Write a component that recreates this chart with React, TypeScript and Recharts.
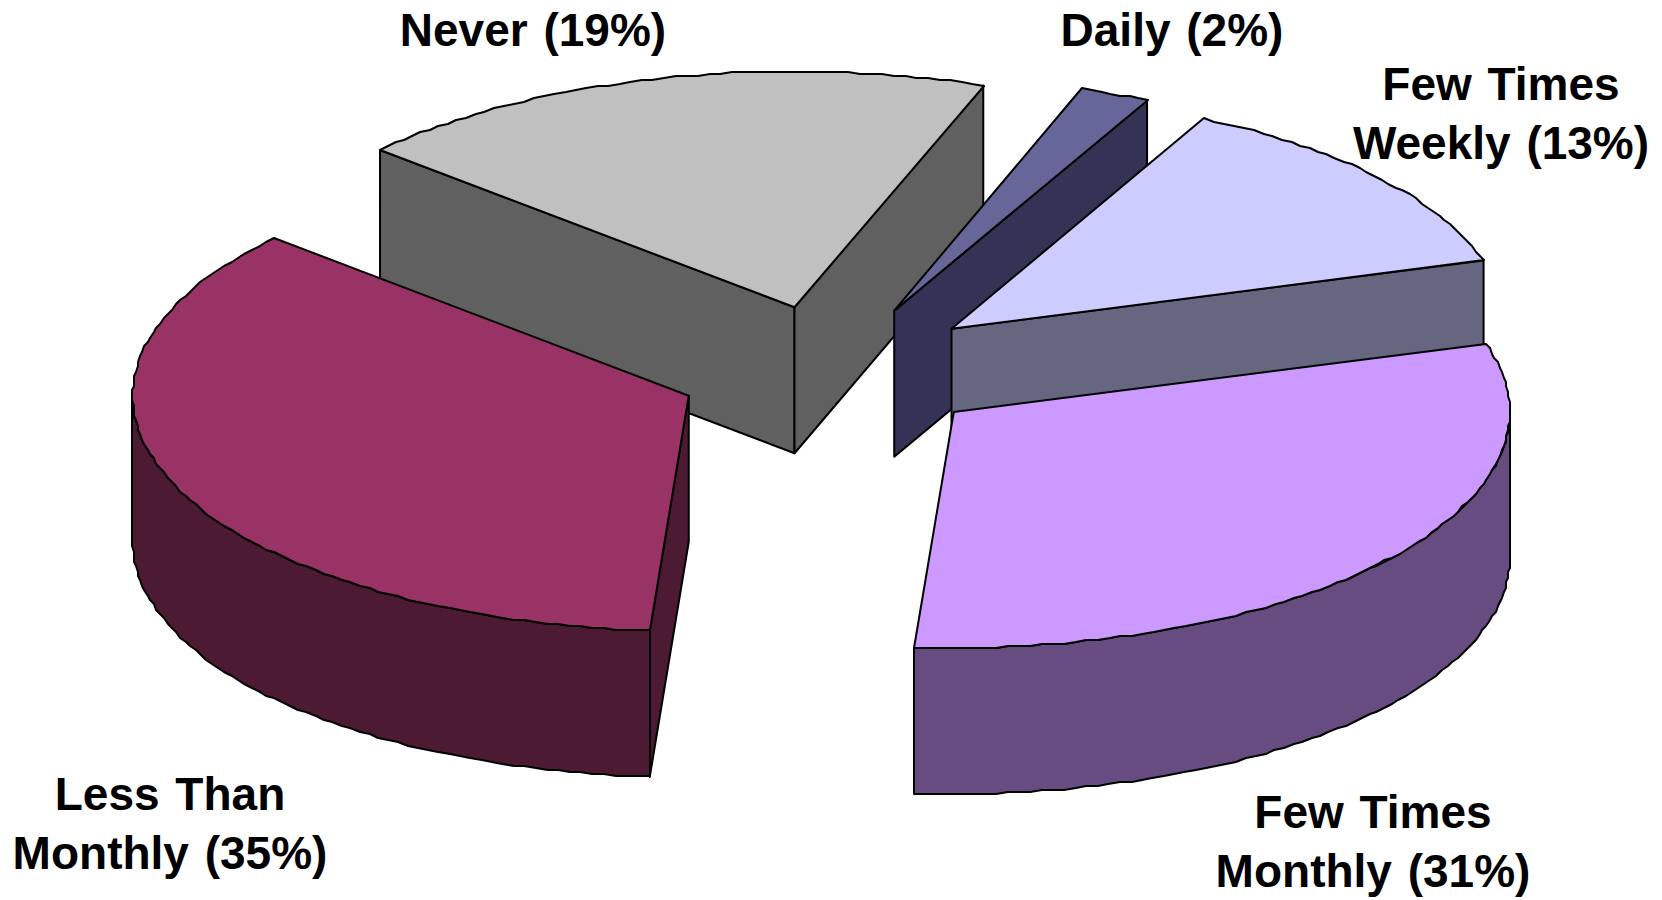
import { PieChart, Pie } from "recharts";

const categories = [
  "Never",
  "Daily",
  "Few Times Weekly",
  "Few Times Monthly",
  "Less Than Monthly",
];
// they round to the printed labels
const shares = [18.9, 2, 12.8, 30.8, 35.49];
const topColors = ["#C0C0C0", "#666699", "#CCCCFF", "#CC99FF", "#993366"];
const sideColors = ["#606060", "#333355", "#666680", "#664C80", "#4D1A33"];

const labelLines = [
  ["Never (19%)"],
  ["Daily (2%)"],
  ["Few Times", "Weekly (13%)"],
  ["Few Times", "Monthly (31%)"],
  ["Less Than", "Monthly (35%)"],
];
const labelCenters = [533, 1172, 1501, 1373, 170];
const labelBaselines = [46, 46, 100, 828, 810];

const TILT = 0.424; // ellipse height / width
const DEPTH = 146;
const EXPLODE = 0.279;
const GRID = 2; // the source outline is stepped, not a clean curve
const RAD = Math.PI / 180;

const chartData = categories.map((name, i) => ({
  name,
  value: shares[i],
  fill: topColors[i],
  side: sideColors[i],
}));

const snap = (v: number) => Math.round(v / GRID) * GRID;

const arcPoints = (
  x: number,
  y: number,
  r: number,
  from: number,
  to: number,
) => {
  const steps = Math.max(2, Math.ceil(Math.abs(from - to) / 1.2));
  const pts: [number, number][] = [];
  for (let i = 0; i <= steps; i++) {
    const a = (from + ((to - from) * i) / steps) * RAD;
    pts.push([snap(x + r * Math.cos(a)), snap(y - r * TILT * Math.sin(a))]);
  }
  return pts;
};

const toPath = (pts: [number, number][]) =>
  pts.map((p, i) => `${i ? "L" : "M"}${p[0]} ${p[1]}`).join(" ") + " Z";

const edgeWall = (x: number, y: number, r: number, angle: number) => {
  const ex = x + r * Math.cos(angle * RAD);
  const ey = y - r * TILT * Math.sin(angle * RAD);
  return `M${x} ${y} L${ex} ${ey} L${ex} ${ey + DEPTH} L${x} ${y + DEPTH} Z`;
};

const Slice3D = (props: any) => {
  const { cx, cy, outerRadius: r, startAngle, endAngle, midAngle, payload } = props;
  const x = cx + EXPLODE * r * Math.cos(midAngle * RAD);
  const y = cy - EXPLODE * r * TILT * Math.sin(midAngle * RAD);
  const style = { stroke: "#000", strokeWidth: 2, strokeLinejoin: "round" as const };

  // the rim only shows between 0 and -180 degrees
  const rimFrom = Math.min(startAngle, 0);
  const rimTo = Math.max(endAngle, -180);
  let rim = "";
  if (rimFrom > rimTo) {
    const topEdge = arcPoints(x, y, r, rimFrom, rimTo);
    const lower = topEdge
      .slice()
      .reverse()
      .map((p) => [p[0], p[1] + DEPTH] as [number, number]);
    rim = toPath([...topEdge, ...lower]);
  }

  const top = toPath([[x, y], ...arcPoints(x, y, r, startAngle, endAngle)]);

  return (
    <g>
      {Math.cos(startAngle * RAD) < 0 && (
        <path d={edgeWall(x, y, r, startAngle)} fill={payload.side} {...style} />
      )}
      {Math.cos(endAngle * RAD) > 0 && (
        <path d={edgeWall(x, y, r, endAngle)} fill={payload.side} {...style} />
      )}
      {rim && <path d={rim} fill={payload.side} {...style} />}
      <path d={top} fill={payload.fill} {...style} />
    </g>
  );
};

const renderLabel = (props: any) => {
  const i = props.index;
  return (
    <text
      key={i}
      textAnchor="middle"
      fontFamily="'Liberation Sans', Arial, sans-serif"
      fontWeight="bold"
      fontSize={46}
      wordSpacing={3}
      fill="#000"
    >
      {labelLines[i].map((line, n) => (
        <tspan key={line} x={labelCenters[i]} y={labelBaselines[i] + n * 59}>
          {line}
        </tspan>
      ))}
    </text>
  );
};

export default function App() {
  return (
    <div style={{ position: "absolute", left: 0, top: 0, background: "#fff" }}>
      <PieChart
        width={1662}
        height={900}
        margin={{ top: 0, right: 0, bottom: 0, left: 0 }}
      >
        <Pie
          data={chartData}
          dataKey="value"
          nameKey="name"
          cx={832.5}
          cy={371}
          innerRadius={0}
          outerRadius={556}
          startAngle={138.2}
          endAngle={-221.8}
          shape={Slice3D}
          label={renderLabel}
          labelLine={false}
          isAnimationActive={false}
        />
      </PieChart>
    </div>
  );
}
